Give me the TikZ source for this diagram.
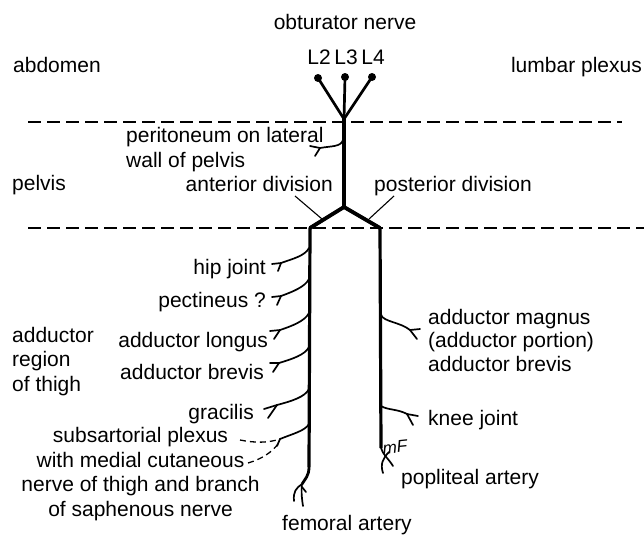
\documentclass[tikz,border=0pt]{standalone}
\usepackage{fontspec}
\setmainfont{Liberation Sans}
\begin{document}
\begin{tikzpicture}[x=1pt,y=-1pt,
  lbl/.style={inner sep=0pt, font=\fontsize{21}{25}\selectfont},
  dot/.style={circle, fill=black, inner sep=0pt, minimum size=8pt},
  root/.style={line width=2.7pt, line cap=round},
  trunk/.style={line width=4pt, line cap=butt},
  stem/.style={line width=3.2pt, line join=round},
  twig/.style={line width=1.7pt, line cap=round, line join=round},
  level/.style={line width=1.4pt, dash pattern=on 13pt off 6pt},
  pointer/.style={line width=1.1pt},
  faint/.style={line width=1.3pt, dash pattern=on 6pt off 4pt}]
\useasboundingbox (0,0) rectangle (644,538);

% level lines
\coordinate (d1a) at (28,122); \coordinate (d1b) at (622,122);
\coordinate (d2a) at (28,228); \coordinate (d2b) at (644,228);
\draw[level] (d1a) -- (d1b);
\draw[level] (d2a) -- (d2b);

% labels
\node[lbl, anchor=base] (obt) at (345,29) {obturator nerve};
\node[lbl, anchor=base] (tL2) at (319,64) {L2};
\node[lbl, anchor=base] (tL3) at (346,64) {L3};
\node[lbl, anchor=base] (tL4) at (373,64) {L4};
\node[lbl, anchor=base west] (abd) at (13,72) {abdomen};
\node[lbl, anchor=base east] (lum) at (642,72) {lumbar plexus};
\node[lbl, anchor=base west] (per1) at (126,142) {peritoneum on lateral};
\node[lbl, anchor=base west] (per2) at (126,167) {wall of pelvis};
\node[lbl, anchor=base west] (pel) at (12,190) {pelvis};
\node[lbl, anchor=base east] (ant) at (333,191) {anterior division};
\node[lbl, anchor=base west] (post) at (374,191) {posterior division};
\node[lbl, anchor=base east] (hip) at (266,274) {hip joint};
\node[lbl, anchor=base east] (pec) at (266,307) {pectineus ?};
\node[lbl, anchor=base east] (lon) at (268,347) {adductor longus};
\node[lbl, anchor=base east] (bre) at (264,379) {adductor brevis};
\node[lbl, anchor=base east] (gra) at (254,419) {gracilis};
\node[lbl, anchor=base] (sub1) at (140.5,442) {subsartorial plexus};
\node[lbl, anchor=base] (sub2) at (140.5,467) {with medial cutaneous};
\node[lbl, anchor=base] (sub3) at (140.5,491) {nerve of thigh and branch};
\node[lbl, anchor=base] (sub4) at (140.5,516) {of saphenous nerve};
\node[lbl, anchor=base] (fem) at (347,530) {femoral artery};
\node[lbl, anchor=base west] (reg1) at (12,342) {adductor};
\node[lbl, anchor=base west] (reg2) at (12,366) {region};
\node[lbl, anchor=base west] (reg3) at (12,391) {of thigh};
\node[lbl, anchor=base west] (mag1) at (428,324) {adductor magnus};
\node[lbl, anchor=base west] (mag2) at (428,347) {(adductor portion)};
\node[lbl, anchor=base west] (mag3) at (428,371) {adductor brevis};
\node[lbl, anchor=base west] (kne) at (428,425) {knee joint};
\node[lbl, anchor=base west] (pop) at (401,484) {popliteal artery};
\node[inner sep=0pt, font=\fontsize{17}{17}\selectfont\itshape, rotate=6] (sig) at (395,447) {mF};

% roots
\node[dot] (L2) at (318,78) {};
\node[dot] (L3) at (345,77) {};
\node[dot] (L4) at (372,77) {};
\coordinate (top) at (344,119);
\coordinate (split) at (344,207);
\coordinate (lc) at (310,228);
\coordinate (rc) at (380,228);
\coordinate (lb) at (309,467);
\coordinate (rb) at (381,448);
\draw[root] (L2.center) -- (top);
\draw[root] (L3.center) -- (top);
\draw[root] (L4.center) -- (top);
\draw[trunk] (344,117) -- (split);
\draw[stem] (lb) -- (lc) -- (split) -- (rc) -- (rb);
\draw[line width=3.8pt, line join=round] (lc) -- (split) -- (rc);

% pointers
\coordinate (pa) at (295,196); \coordinate (pa2) at (322,219);
\coordinate (pp) at (394,196); \coordinate (pp2) at (369,219);
\draw[pointer] (pa) -- (pa2);
\draw[pointer] (pp) -- (pp2);

% peritoneal twig
\draw[twig] (343,140) .. controls (341,147) and (331,146) .. (320,148);
\draw[twig] (320,148) -- (310,146);
\draw[twig] (320,148) -- (315,156);

% left twigs
\foreach \ty/\fx/\fy/\ax/\ay/\bx/\by in {
  248/281/263/272/264/278/271,
  279/281/296/272/297/277/305,
  313/280/330/270/331/274/339,
  347/279/363/270/363/273/372,
  389/277/405/264/409/268/418}{
  \draw[twig] (309,\ty) .. controls (305,\ty+8) and (292,\fy-4) .. (\fx,\fy);
  \draw[twig] (\fx,\fy) -- (\ax,\ay);
  \draw[twig] (\fx,\fy) -- (\bx,\by);
}
% subsartorial twig and dashed leaders
\coordinate (sf) at (280,439);
\draw[twig] (309,424) .. controls (305,431) and (292,434) .. (sf);
\draw[twig] (sf) -- (277,446);
\coordinate (s1) at (240,440);
\coordinate (s2) at (248,463);
\draw[faint] (s1) .. controls (255,443) and (268,443) .. (sf);
\draw[faint] (s2) .. controls (262,459) and (272,452) .. (278,444);

% femoral end
\coordinate (fe) at (302,484);
\draw[stem, line width=2.8pt] (lb) .. controls (309,476) and (305,479) .. (fe);
\draw[twig] (fe) .. controls (296,488) and (293,492) .. (294,501);
\draw[twig] (fe) .. controls (301,492) and (302,500) .. (303,506);
\draw[twig] (302,487) -- (306,492);

% right twigs
\draw[twig] (381,315) .. controls (384,322) and (400,322) .. (410,330);
\draw[twig] (410,330) -- (420,329);
\draw[twig] (410,330) -- (417,339);
\draw[twig] (381,406) .. controls (387,410) and (398,409) .. (407,414);
\draw[twig] (407,414) -- (418,416);
\draw[twig] (407,414) -- (413,425);

% popliteal end
\draw[twig] (rb) .. controls (383,455) and (388,458) .. (393,466);
\draw[twig] (389,452) .. controls (383,458) and (380,464) .. (383,473);
\end{tikzpicture}
\end{document}
